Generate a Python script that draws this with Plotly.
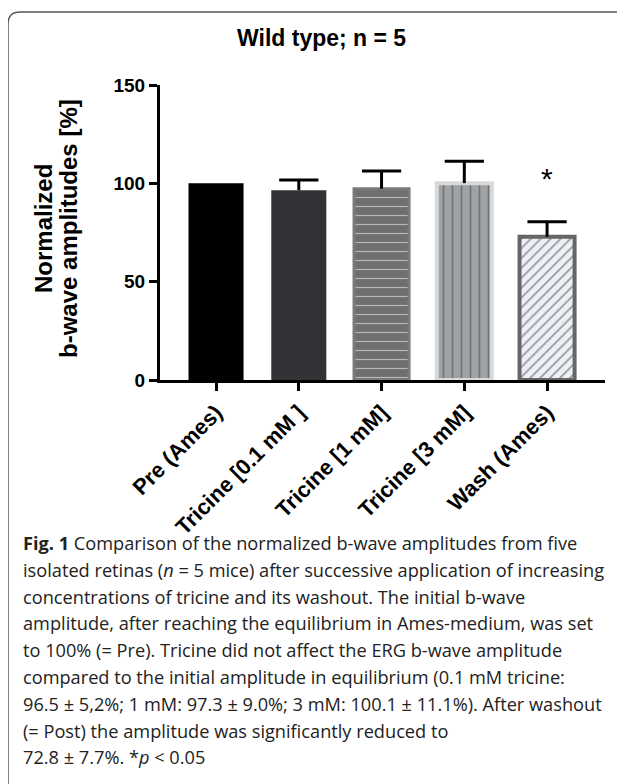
import plotly.graph_objects as go

# ---- data ----
categories = ["Pre (Ames)", "Tricine [0.1 mM ]", "Tricine [1 mM]", "Tricine [3 mM]", "Wash (Ames)"]
means = [100.0, 96.5, 97.3, 100.1, 72.8]
sem_up = [0.0, 5.2, 9.0, 11.1, 7.7]
significant = [False, False, False, False, True]
y_ticks = [0, 50, 100, 150]
title_text = "Wild type; n = 5"
y_title_lines = ["Normalized", "b-wave amplitudes [%]"]
caption_lines = [
    "<b>Fig. 1</b> Comparison of the normalized b-wave amplitudes from five",
    "isolated retinas (<i>n</i> = 5 mice) after successive application of increasing",
    "concentrations of tricine and its washout. The initial b-wave",
    "amplitude, after reaching the equilibrium in Ames-medium, was set",
    "to 100% (= Pre). Tricine did not affect the ERG b-wave amplitude",
    "compared to the initial amplitude in equilibrium (0.1 mM tricine:",
    "96.5 ± 5,2%; 1 mM: 97.3 ± 9.0%; 3 mM: 100.1 ± 11.1%). After washout",
    "(= Post) the amplitude was significantly reduced to",
    "72.8 ± 7.7%. *<i>p</i> &lt; 0.05",
]

# ---- styles ----
fills = ["#000000", "#333337", "#6f6f72", "#9fa3a6", "#eef0f8"]
pat_shapes = ["", "", "-", "|", "/"]
pat_fg = ["#000000", "#333337", "#868688", "#c6c8c9", "#6a6a6a"]
pat_size = [8, 8, 9, 9, 7]
pat_solid = [0.2, 0.2, 0.13, 0.18, 0.25]
line_cols = ["#000000", "#333337", "#7a7a7c", "#d9d9d9", "#666666"]
line_w = [0, 0, 3, 4, 4]

OFF = 8  # page body margin
W, H = 625 - OFF, 784 - OFF
L, R, T, B = 152, 20, 77, 404
PW, PH = W - L - R, H - T - B


def px(x):  # screen pixel -> paper x
    return (x - OFF - L) / PW


def py(y):  # screen pixel -> paper y
    return (H - B - (y - OFF)) / PH


caps_y = [m + e if e > 0 else None for m, e in zip(means, sem_up)]

fig = go.Figure()
fig.add_trace(go.Bar(
    x=categories, y=means, width=0.665,
    marker=dict(color=fills,
                line=dict(color=line_cols, width=line_w),
                pattern=dict(shape=pat_shapes, fgcolor=pat_fg, bgcolor=fills,
                             size=pat_size, solidity=pat_solid)),
    error_y=dict(type="data", symmetric=False, array=sem_up,
                 arrayminus=[0] * len(sem_up), color="#000000",
                 thickness=3, width=0),
    showlegend=False, hoverinfo="skip",
))
fig.add_trace(go.Scatter(
    x=categories, y=caps_y, mode="markers",
    marker=dict(symbol="line-ew", size=28, line=dict(color="#000", width=3)),
    showlegend=False, hoverinfo="skip",
))

annotations = [
    dict(text="<b>%s</b>" % title_text, x=px(321), y=py(38), xref="paper", yref="paper",
         showarrow=False, font=dict(family="Liberation Sans", size=23, color="#000"),
         xanchor="center", yanchor="middle"),
]
for i, t in enumerate(y_title_lines):
    annotations.append(dict(
        text="<b>%s</b>" % t, x=px(43 + 25 * i), y=py(229), xref="paper", yref="paper",
        showarrow=False, textangle=-90,
        font=dict(family="Liberation Sans", size=24, color="#000"),
        xanchor="center", yanchor="middle"))
for c, m, e, s in zip(categories, means, sem_up, significant):
    if s:
        annotations.append(dict(
            text="*", x=c, y=m + e + 22, xref="x", yref="y", showarrow=False,
            font=dict(family="Liberation Sans", size=30, color="#000"),
            xanchor="center", yanchor="middle"))
for i, line in enumerate(caption_lines):
    annotations.append(dict(
        text=line, x=px(21), y=py(543 + i * 26.8), xref="paper", yref="paper",
        showarrow=False, xanchor="left", yanchor="middle", align="left",
        font=dict(family="Open Sans", size=18.2, color="#222")))

fig.update_layout(
    width=W, height=H,
    margin=dict(l=L, r=R, t=T, b=B, autoexpand=False),
    paper_bgcolor="white", plot_bgcolor="white",
    annotations=annotations,
    shapes=[dict(type="path", xref="paper", yref="paper",
                 path="M %f,%f L %f,%f Q %f,%f %f,%f L %f,%f" % (
                     px(8), py(800), px(8), py(24), px(8), py(12), px(20), py(12), px(640), py(12)),
                 line=dict(color="#555555", width=1.5))],
    font=dict(family="Liberation Sans", color="#000"),
)
fig.update_xaxes(
    range=[-0.677, 4.70], showline=True, linecolor="#000", linewidth=3,
    ticks="outside", ticklen=8, tickwidth=3, tickcolor="#000", tickangle=-45,
    tickfont=dict(family="Liberation Sans", size=22, color="#000"),
    showgrid=False, zeroline=False,
    tickmode="array", tickvals=categories,
    ticktext=["<b>%s</b>" % c for c in categories],
)
fig.update_yaxes(
    range=[0, 150], tickvals=y_ticks, ticktext=["<b>%d</b>" % v for v in y_ticks],
    showline=True, linecolor="#000", linewidth=3,
    ticks="outside", ticklen=8, tickwidth=3, tickcolor="#000",
    tickfont=dict(family="Liberation Sans", size=19, color="#000"),
    showgrid=False, zeroline=False,
)
fig.write_html("out.html")
